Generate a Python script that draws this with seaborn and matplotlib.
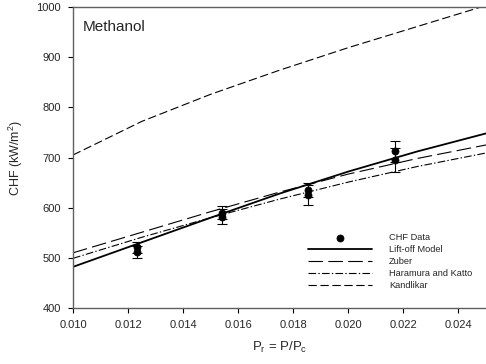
import matplotlib
matplotlib.use("Agg")
import matplotlib.pyplot as plt
import seaborn as sns
import pandas as pd

# ---- data ----
pr_grid = [0.010, 0.0125, 0.015, 0.0175, 0.020, 0.0225, 0.025]
liftoff = [482, 531, 580, 628, 672, 712, 748]
zuber = [510, 551, 592, 631, 667, 698, 725]
haramura_katto = [499, 541, 580, 617, 651, 682, 709]
kandlikar = [705, 772, 826, 874, 919, 961, 1003]

pr_data = [0.01232, 0.01232, 0.01542, 0.01542, 0.01855, 0.01855, 0.02171, 0.02171]
chf_data = [512, 521, 582, 590, 625, 635, 695, 712]
chf_err = [12, 11, 15, 13, 20, 14, 23, 21]

x_ticks = [0.010, 0.012, 0.014, 0.016, 0.018, 0.020, 0.022, 0.024]
y_ticks = [400, 500, 600, 700, 800, 900, 1000]

sns.set_style("ticks")
plt.rcParams["font.family"] = ["Liberation Sans", "DejaVu Sans"]
plt.rcParams["mathtext.default"] = "regular"
plt.rcParams["lines.scale_dashes"] = False

fig = plt.figure(figsize=(4.86, 3.64), dpi=100)
ax = fig.add_axes([73 / 486, 1 - 308 / 364, (486 - 73) / 486, (308 - 7) / 364])

models = [
    ("Lift-off Model", liftoff, "-", 1.3),
    ("Zuber", zuber, (0, (10.5, 3.8)), 0.8),
    ("Haramura and Katto", haramura_katto, (0, (5.5, 1.6, 1.0, 1.6)), 0.8),
    ("Kandlikar", kandlikar, (0, (6.0, 2.6)), 0.8),
]
for name, vals, ls, lw in models:
    df = pd.DataFrame({"Pr": pr_grid, "CHF": vals})
    sns.lineplot(data=df, x="Pr", y="CHF", ax=ax, color="black",
                 linestyle=ls, linewidth=lw, label=name)

ax.errorbar(pr_data, chf_data, yerr=chf_err, fmt="none", ecolor="black",
            elinewidth=0.8, capsize=3.3, capthick=0.8, zorder=3)
sns.scatterplot(x=pr_data, y=chf_data, ax=ax, color="black", s=26,
                edgecolor="black", linewidth=0.5, label="CHF Data", zorder=4)

ax.set_xlim(0.010, 0.025)
ax.set_ylim(400, 1000)
ax.set_xticks(x_ticks)
ax.set_xticklabels([f"{t:.3f}" for t in x_ticks])
ax.set_yticks(y_ticks)
ax.tick_params(axis="both", labelsize=8, direction="out", length=3.5,
               width=0.8, color="black", pad=5)

for side in ["left", "top", "bottom"]:
    ax.spines[side].set_visible(True)
    ax.spines[side].set_color("#606060")
    ax.spines[side].set_linewidth(1.0)
ax.spines["right"].set_visible(False)

ax.set_xlabel("P$_r$ = P/P$_c$", fontsize=9.5, labelpad=7)
ax.set_ylabel("CHF (kW/m$^2$)", fontsize=9, labelpad=8)

ax.text(83 / 486, 1 - 27 / 364, "Methanol", transform=fig.transFigure,
        fontsize=11, va="center", ha="left")

handles, labels = ax.get_legend_handles_labels()
order = ["CHF Data", "Lift-off Model", "Zuber", "Haramura and Katto", "Kandlikar"]
hmap = dict(zip(labels, handles))
ax.legend([hmap[k] for k in order], order, loc="upper left",
          bbox_to_anchor=(308 / 486, 1 - 233 / 364),
          bbox_transform=fig.transFigure, frameon=False, fontsize=6.7,
          handlelength=6.9, handletextpad=1.8, labelspacing=0.32,
          borderpad=0, borderaxespad=0, scatterpoints=1)

fig.savefig("out.png", dpi=100)
